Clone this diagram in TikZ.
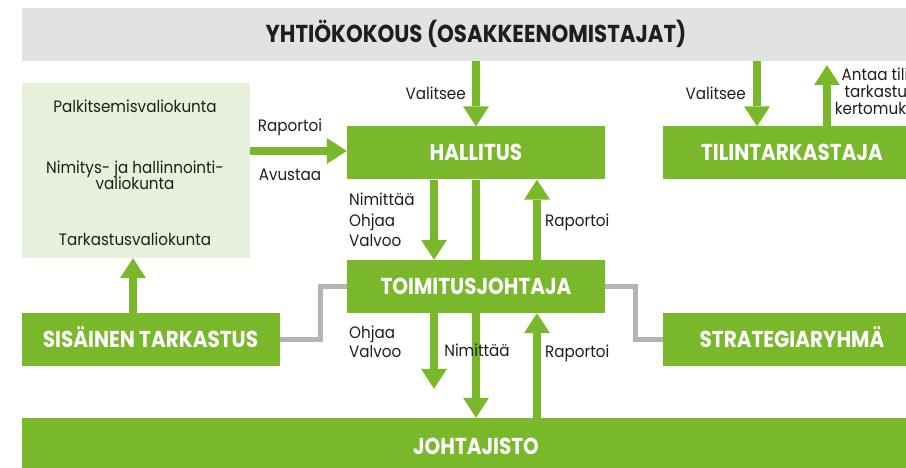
\documentclass[tikz,border=0pt]{standalone}
\usepackage{fontspec}
\setmainfont[FakeStretch=0.92]{Poppins}
\newfontfamily\boxfont[FakeStretch=0.87]{Poppins}
\usetikzlibrary{arrows.meta,positioning,calc}
\definecolor{boxgreen}{RGB}{120,184,42}
\definecolor{palegreen}{RGB}{230,240,218}
\definecolor{bargray}{RGB}{226,226,226}
\definecolor{linkgray}{RGB}{180,180,180}
\definecolor{inkcolor}{RGB}{30,30,30}
\tikzset{
  orgbox/.style={fill=boxgreen,minimum width=258pt,minimum height=53pt,inner sep=0pt,
    text height=16pt,text depth=0pt,text=white,font=\boxfont\bfseries\fontsize{23}{23}\selectfont},
  headbar/.style={fill=bargray,minimum width=908pt,minimum height=53pt,inner sep=0pt,
    text height=17pt,text depth=0pt,text=inkcolor,font=\boxfont\bfseries\fontsize{24.5}{24.5}\selectfont},
  committeebox/.style={fill=palegreen,minimum width=228pt,minimum height=175pt,inner sep=0pt},
  labeltxt/.style={inner sep=0pt,text=inkcolor,font=\fontsize{16.5}{19}\selectfont},
  greenarrow/.style={draw=boxgreen,line width=8pt,-{Triangle[width=26pt,length=20pt,line width=0pt]}},
  greenshaft/.style={draw=boxgreen,line width=8pt},
  graylink/.style={draw=linkgray,line width=5pt},
}
\begin{document}
\begin{tikzpicture}[x=1pt,y=-1pt]
  \useasboundingbox (0,0) rectangle (906,468);
  \clip (0,0) rectangle (906,468);
  \node[headbar] (yhtio) at (476,34.5) {YHTIÖKOKOUS (OSAKKEENOMISTAJAT)};
  \node[committeebox] (valiok) at (136,170.5) {};
  \node[labeltxt,anchor=base] (palk) at (135,113) {Palkitsemisvaliokunta};
  \node[labeltxt,anchor=base,align=center,font=\fontsize{16.5}{17}\selectfont] (nimi) at (135,190) {Nimitys- ja hallinnointi-\\valiokunta};
  \node[labeltxt,anchor=base] (tark) at (135,246) {Tarkastusvaliokunta};
  \node[orgbox] (hallitus) at (476,153) {HALLITUS};
  \node[orgbox] (tilin) at (792,153) {TILINTARKASTAJA};
  \node[orgbox] (toimitus) at (476,286.5) {TOIMITUSJOHTAJA};
  \node[orgbox] (sisainen) at (150.5,339.5) {SISÄINEN TARKASTUS};
  \node[orgbox] (strat) at (792,339.5) {STRATEGIARYHMÄ};
  \node[orgbox,minimum width=908pt,minimum height=56pt] (johto) at (476,446) {JOHTAJISTO};

  \draw[greenarrow] (hallitus.north |- yhtio.south) -- (hallitus.north);
  \draw[greenarrow] ($(tilin.north |- yhtio.south)+(-35,0)$) -- ($(tilin.north)+(-35,0)$);
  \draw[greenarrow,shorten >=4pt] ($(tilin.north)+(35,0)$) -- ($(tilin.north |- yhtio.south)+(35,0)$);
  \draw[greenarrow] ($(valiok.east |- hallitus.west)+(0,-2)$) -- ($(hallitus.west)+(0,-2)$);
  \draw[greenarrow] ($(hallitus.south)+(-42,0)$) -- ($(toimitus.north)+(-42,0)$);
  \draw[greenshaft] (hallitus.south) -- (toimitus.north);
  \draw[greenarrow] ($(toimitus.north)+(61,0)$) -- ($(hallitus.south)+(61,0)$);
  \draw[greenarrow,shorten >=29pt] ($(toimitus.south)+(-42,0)$) -- ($(johto.north)+(-42,0)$);
  \draw[greenarrow] (toimitus.south) -- (johto.north);
  \draw[greenarrow] ($(johto.north)+(61,0)$) -- ($(toimitus.south)+(61,0)$);
  \draw[greenarrow] ($(sisainen.north)+(-17.5,0)$) -- ($(valiok.south)+(-3,0)$);
  \draw[graylink] (toimitus.west) -- ++(-26,0) |- (sisainen.east);
  \draw[graylink] (toimitus.east) -- ++(30,0) |- (strat.west);

  \node[labeltxt,anchor=base east] (valitsee1) at (466,100) {Valitsee};
  \node[labeltxt,anchor=base east] (valitsee2) at (746,100) {Valitsee};
  \node[labeltxt,anchor=base,align=center,font=\fontsize{16.5}{17}\selectfont] (antaa) at (884,115) {Antaa tilin-\\tarkastus-\\kertomuksen};
  \node[labeltxt,anchor=base] (raportoi1) at (290,132) {Raportoi};
  \node[labeltxt,anchor=base] (avustaa) at (290,181) {Avustaa};
  \node[labeltxt,anchor=base west,align=left,font=\fontsize{16.5}{20.5}\selectfont] (ohjaus1) at (349,247) {Nimittää\\Ohjaa\\Valvoo};
  \node[labeltxt,anchor=base west] (raportoi2) at (545,227) {Raportoi};
  \node[labeltxt,anchor=base west,align=left] (ohjaus2) at (349,357) {Ohjaa\\Valvoo};
  \node[labeltxt,anchor=base] (nimittaa) at (477,356) {Nimittää};
  \node[labeltxt,anchor=base west] (raportoi3) at (545,357) {Raportoi};
\end{tikzpicture}
\end{document}
